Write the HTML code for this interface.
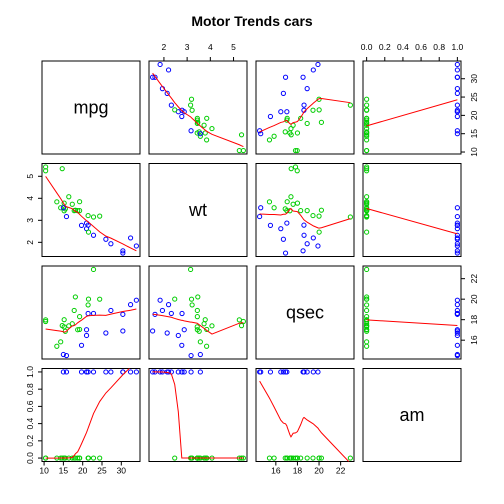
<!DOCTYPE html>
<html><head><meta charset="utf-8"><style>
body{margin:0;background:#fff}
svg{display:block;font-family:"Liberation Sans",Arial,sans-serif}
</style></head><body>
<svg id="c" width="504" height="504" viewBox="0 0 504 504">
<text x="252" y="26" text-anchor="middle" font-weight="bold" font-size="14">Motor Trends cars</text>
</svg>
<script>
const varNames=["mpg","wt","qsec","am"];
const mpg=[21,21,22.8,21.4,18.7,18.1,14.3,24.4,22.8,19.2,17.8,16.4,17.3,15.2,10.4,10.4,14.7,32.4,30.4,33.9,21.5,15.5,15.2,13.3,19.2,27.3,26,30.4,15.8,19.7,15,21.4];
const wt=[2.62,2.875,2.32,3.215,3.44,3.46,3.57,3.19,3.15,3.44,3.44,4.07,3.73,3.78,5.25,5.424,5.345,2.2,1.615,1.835,2.465,3.52,3.435,3.84,3.845,1.935,2.14,1.513,3.17,2.77,3.57,2.78];
const qsec=[16.46,17.02,18.61,19.44,17.02,20.22,15.84,20,22.9,18.3,18.9,17.4,17.6,18,17.98,17.82,17.42,19.47,18.52,19.9,20.01,16.87,17.3,15.41,17.05,18.9,16.7,16.9,14.5,15.5,14.6,18.6];
const am=[1,1,1,0,0,0,0,0,0,0,0,0,0,0,0,0,0,1,1,1,0,0,0,0,0,1,1,1,1,1,1,1];
const mpgTicks=[10,15,20,25,30];
const wtTicks=[2,3,4,5];
const qsecTicks=[16,18,20,22];
const amTicks=[0,0.2,0.4,0.6,0.8,1.0];

const svg=document.getElementById('c');
const NS="http://www.w3.org/2000/svg";
const vars=[mpg,wt,qsec,am];
const ticks=[mpgTicks,wtTicks,qsecTicks,amTicks];
const tickFmt=[v=>String(v),v=>String(v),v=>String(v),v=>v.toFixed(1)];
const colL=[42,149,256,363], rowT=[61,163.5,266,368.5], PW=98, PH=93;
function el(t,a){const e=document.createElementNS(NS,t);for(const k in a)e.setAttribute(k,a[k]);svg.appendChild(e);return e;}
function rng(v){const mn=Math.min(...v),mx=Math.max(...v),r=mx-mn;return [mn-0.04*r,mx+0.04*r];}
function sx(j,v){const [a,b]=rng(vars[j]);return colL[j]+(v-a)/(b-a)*PW;}
function sy(i,v){const [a,b]=rng(vars[i]);return rowT[i]+PH-(v-a)/(b-a)*PH;}

function lowess(xin,yin,f,nsteps){
  const idx=xin.map((v,i)=>i).sort((a,b)=>xin[a]-xin[b]);
  const x=idx.map(i=>xin[i]),y=idx.map(i=>yin[i]);const n=x.length;
  const ys=new Array(n).fill(0),rw=new Array(n).fill(1),res=new Array(n).fill(0),w=new Array(n).fill(0);
  const delta=0.01*(x[n-1]-x[0]);
  const ns=Math.max(Math.min(Math.floor(f*n),n),2);
  function lowest(xs,nleft,nright,userw){
    const range=x[n-1]-x[0];const h=Math.max(xs-x[nleft],x[nright]-xs);const h9=.999*h,h1=.001*h;
    let a=0,j=nleft;
    while(j<n){w[j]=0;const r=Math.abs(x[j]-xs);
      if(r<=h9){w[j]=r<=h1?1:Math.pow(1-Math.pow(r/h,3),3);if(userw)w[j]*=rw[j];a+=w[j];}
      else if(x[j]>xs)break;j++;}
    const nrt=j-1;if(a<=0)return null;
    for(j=nleft;j<=nrt;j++)w[j]/=a;
    if(h>0){a=0;for(j=nleft;j<=nrt;j++)a+=w[j]*x[j];let b=xs-a,c=0;
      for(j=nleft;j<=nrt;j++)c+=w[j]*(x[j]-a)*(x[j]-a);
      if(Math.sqrt(c)>.001*range){b/=c;for(j=nleft;j<=nrt;j++)w[j]*=(b*(x[j]-a)+1);}}
    let s=0;for(j=nleft;j<=nrt;j++)s+=w[j]*y[j];return s;}
  for(let iter=1;iter<=nsteps+1;iter++){
    let nleft=0,nright=ns-1,last=-1,i=0;
    for(;;){
      if(nright<n-1){const d1=x[i]-x[nleft],d2=x[nright+1]-x[i];if(d1>d2){nleft++;nright++;continue;}}
      const r=lowest(x[i],nleft,nright,iter>1);ys[i]=r===null?y[i]:r;
      if(last<i-1){const den=x[i]-x[last];for(let j=last+1;j<i;j++){const al=(x[j]-x[last])/den;ys[j]=al*ys[i]+(1-al)*ys[last];}}
      last=i;const cut=x[last]+delta;
      for(i=last+1;i<n;i++){if(x[i]>cut)break;if(x[i]===x[last]){ys[i]=ys[last];last=i;}}
      i=Math.max(last+1,i-1);if(last>=n-1)break;}
    for(let k=0;k<n;k++)res[k]=y[k]-ys[k];
    let sc=0;for(let k=0;k<n;k++)sc+=Math.abs(res[k]);sc/=n;
    if(iter>nsteps)break;
    const ar=res.map(Math.abs);const s=ar.slice().sort((a,b)=>a-b);const m1=Math.floor(n/2);
    const cmad=n%2===0?3*(s[m1]+s[m1-1]):6*s[m1];
    if(cmad<1e-7*sc)break;const c9=.999*cmad,c1=.001*cmad;
    for(let k=0;k<n;k++){const r=ar[k];rw[k]=r<=c1?1:r>c9?0:Math.pow(1-Math.pow(r/cmad,2),2);}
  }
  return {x,y:ys};
}

for(let i=0;i<4;i++)for(let j=0;j<4;j++){
  const L=colL[j],T=rowT[i];
  const box=el('rect',{x:L,y:T,width:PW,height:PH,fill:'none',stroke:'#000','stroke-width':1});
  
  
  if(i===j){
    const t=el('text',{x:L+PW/2,y:T+PH/2+6,'text-anchor':'middle','font-size':18});t.textContent=varNames[i];
    
    
    continue;}
  const X=vars[j],Y=vars[i];
  for(let k=0;k<X.length;k++){
    const c=el('circle',{cx:sx(j,X[k]),cy:sy(i,Y[k]),r:2.1,fill:'none',stroke:am[k]?'#0000FF':'#00CD00','stroke-width':1});
    
    
  }
  const lw=lowess(X,Y,2/3,3);
  const d=lw.x.map((v,k)=>(k?'L':'M')+sx(j,v).toFixed(2)+','+sy(i,lw.y[k]).toFixed(2)).join('');
  const cp='clip'+i+j;
  const cl=el('clipPath',{id:cp});const cr=document.createElementNS(NS,'rect');
  cr.setAttribute('x',L);cr.setAttribute('y',T);cr.setAttribute('width',PW);cr.setAttribute('height',PH);cl.appendChild(cr);
  const p=el('path',{d,fill:'none',stroke:'#FF0000','stroke-width':1,'clip-path':'url(#'+cp+')'});
  
  
}
function xAxis(j,top){
  const y0=top?rowT[0]:rowT[3]+PH;const dir=top?-1:1;
  for(const v of ticks[j]){const x=sx(j,v);
    el('line',{x1:x,x2:x,y1:y0,y2:y0+dir*4,stroke:'#000'});
    const t=el('text',{x:x,y:top?y0-11:y0+12,'text-anchor':'middle','font-size':8.5});t.textContent=tickFmt[j](v);
    
    }
  el('line',{x1:sx(j,ticks[j][0]),x2:sx(j,ticks[j][ticks[j].length-1]),y1:y0,y2:y0,stroke:'#000'});
}
function yAxis(i,right){
  const x0=right?colL[3]+PW:colL[0];const dir=right?1:-1;
  for(const v of ticks[i]){const y=sy(i,v);
    el('line',{x1:x0,x2:x0+dir*4,y1:y,y2:y,stroke:'#000'});
    const tx=right?x0+16:x0-9;
    const t=el('text',{x:tx,y:y,'text-anchor':'middle','font-size':8.5,transform:'rotate(-90 '+tx+' '+y+')'});t.textContent=tickFmt[i](v);
    
    }
  el('line',{x1:x0,x2:x0,y1:sy(i,ticks[i][0]),y2:sy(i,ticks[i][ticks[i].length-1]),stroke:'#000'});
}
xAxis(1,true);xAxis(3,true);xAxis(0,false);xAxis(2,false);
yAxis(0,true);yAxis(2,true);yAxis(1,false);yAxis(3,false);
</script>
</body></html>
